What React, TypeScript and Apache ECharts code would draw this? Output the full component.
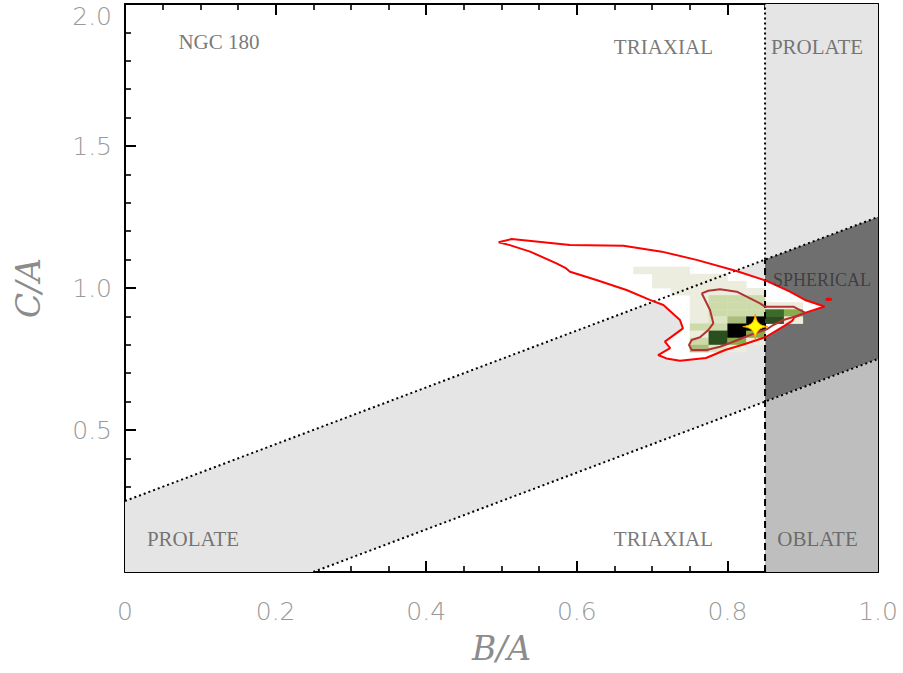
import { useEffect, useRef } from "react";
import * as echarts from "echarts";

// Axis tick labels
const X_LABELS = ["0", "0.2", "0.4", "0.6", "0.8", "1.0"];
const Y_LABELS = ["", "0.5", "1.0", "1.5", "2.0"];

// Shape-classification regions in (B/A, C/A)
const BAND_TRIAXIAL = [[0, 0], [0, 0.25], [0.85, 1.1], [0.85, 0.6], [0.25, 0]];
const REGION_PROLATE = [[0.85, 1.1], [0.85, 2.0], [1.0, 2.0], [1.0, 1.25]];
const REGION_SPHERICAL = [[0.85, 0.6], [0.85, 1.1], [1.0, 1.25], [1.0, 0.75]];
const REGION_OBLATE = [[0.85, 0], [0.85, 0.6], [1.0, 0.75], [1.0, 0]];
const REGION_POLYS = [BAND_TRIAXIAL, REGION_PROLATE, REGION_SPHERICAL, REGION_OBLATE];
const REGION_COLORS = ["#e5e5e5", "#e5e5e5", "#6f6f6f", "#bebebe"];

// Boundary lines
const UPPER_DIAGONAL = [[0, 0.25], [1.0, 1.25]];
const LOWER_DIAGONAL = [[0.25, 0], [1.0, 0.75]];
const VERTICAL_UPPER = [[0.85, 1.1], [0.85, 2.0]];
const VERTICAL_LOWER = [[0.85, 0], [0.85, 1.1]];

// Probability density cells: [B/A left edge, C/A bottom edge, level]
const CELL = 0.025;
const HEAT_CELLS: [number, number, number][] = [
  [0.675, 1.05, 1], [0.7, 1.05, 1], [0.725, 1.05, 1],
  [0.7, 1.025, 1], [0.725, 1.025, 1], [0.75, 1.025, 1], [0.775, 1.025, 1],
  [0.7, 1.0, 1], [0.725, 1.0, 1], [0.75, 1.0, 1], [0.775, 1.0, 1], [0.8, 1.0, 1],
  [0.725, 0.975, 1], [0.75, 0.975, 1], [0.775, 0.975, 1], [0.8, 0.975, 1], [0.825, 0.975, 1],
  [0.75, 0.95, 1], [0.775, 0.95, 3], [0.8, 0.95, 3], [0.825, 0.95, 3],
  [0.75, 0.925, 1], [0.775, 0.925, 3], [0.8, 0.925, 3], [0.825, 0.925, 3], [0.85, 0.925, 1], [0.875, 0.925, 1],
  [0.75, 0.9, 1], [0.775, 0.9, 3], [0.8, 0.9, 3], [0.825, 0.9, 3], [0.85, 0.9, 6], [0.875, 0.9, 5],
  [0.75, 0.875, 1], [0.775, 0.875, 2], [0.8, 0.875, 4], [0.825, 0.875, 8], [0.85, 0.875, 7], [0.875, 0.875, 1],
  [0.75, 0.85, 3], [0.775, 0.85, 3], [0.8, 0.85, 8], [0.825, 0.85, 8],
  [0.75, 0.825, 1], [0.775, 0.825, 7], [0.8, 0.825, 8], [0.825, 0.825, 5],
  [0.75, 0.8, 3], [0.775, 0.8, 7], [0.8, 0.8, 5], [0.825, 0.8, 1],
  [0.75, 0.775, 4], [0.775, 0.775, 2], [0.8, 0.775, 1],
];
const HEAT_COLORS = ["#ffffff", "#ecedde", "#dce5c4", "#cddbab", "#aabd7c", "#8aad4c", "#3b6a29", "#2b4e1e", "#000000"];

// Confidence contours
const OUTER_CONTOUR = [
  [0.496, 1.161], [0.5135, 1.1725], [0.591, 1.151], [0.662, 1.149], [0.713, 1.128],
  [0.759, 1.099], [0.812, 1.06], [0.852, 1.025], [0.883, 0.987], [0.903, 0.958],
  [0.929, 0.935], [0.906, 0.915], [0.889, 0.897], [0.886, 0.884], [0.875, 0.866],
  [0.851, 0.8275], [0.8234, 0.8028], [0.797, 0.7817], [0.7716, 0.7535], [0.737, 0.744],
  [0.719, 0.752], [0.708, 0.764], [0.724, 0.788], [0.717, 0.811], [0.741, 0.858],
  [0.737, 0.887], [0.715, 0.94], [0.697, 0.958], [0.666, 0.993], [0.626, 1.028],
  [0.591, 1.057], [0.586, 1.069], [0.573, 1.087], [0.538, 1.128], [0.511, 1.151],
  [0.496, 1.161],
];
const INNER_CONTOUR = [
  [0.7659, 0.9813], [0.7746, 0.9905], [0.7902, 0.9954], [0.8124, 0.987], [0.8256, 0.9694],
  [0.8433, 0.9461], [0.8499, 0.9342], [0.8875, 0.9342], [0.9031, 0.913], [0.892, 0.9014],
  [0.8742, 0.8873], [0.8609, 0.8697], [0.8522, 0.8546], [0.83, 0.8345], [0.8078, 0.8109],
  [0.7902, 0.7933], [0.7725, 0.7817], [0.7526, 0.7817], [0.749, 0.7993], [0.7526, 0.8169],
  [0.7636, 0.8264], [0.7746, 0.8521], [0.7813, 0.8757], [0.7769, 0.9225], [0.7659, 0.9813],
];
const OUTER_ISLAND = [[0.9302, 0.96], [0.9345, 0.9628], [0.9388, 0.96], [0.9345, 0.9572], [0.9302, 0.96]];

// Best-fit axis ratios
const BEST_FIT = [0.837, 0.864];

// Region annotations: [B/A, C/A, text]
const ANNOTATIONS: [number, number, string][] = [
  [0.1248, 1.866, "NGC 180"],
  [0.715, 1.847, "TRIAXIAL"],
  [0.919, 1.847, "PROLATE"],
  [0.0903, 0.116, "PROLATE"],
  [0.715, 0.116, "TRIAXIAL"],
  [0.9197, 0.116, "OBLATE"],
];
const SPHERICAL_LABEL: [number, number, string] = [0.9256, 1.028, "SPHERICAL"];

const STAR_PATH =
  "path://M10,0 C11,7 13,9 20,10 C13,11 11,13 10,20 C9,13 7,11 0,10 C7,9 9,7 10,0 Z";

const TICK_FONT = "'DejaVu Sans', sans-serif";
const TICK_COLOR = "#9a9a9a";
const LABEL_FONT = "'Liberation Serif', serif";

function axisBase(min: number, max: number, interval: number, minorSplit: number) {
  return {
    type: "value",
    min,
    max,
    interval,
    splitLine: { show: false },
    axisLine: { show: true, onZero: false, lineStyle: { color: "#000", width: 2 } },
    axisTick: { show: true, inside: true, length: 11, lineStyle: { color: "#000", width: 2 } },
    minorTick: { show: true, splitNumber: minorSplit, length: 6, lineStyle: { color: "#000", width: 1.6 } },
    minorSplitLine: { show: false },
  };
}

export default function App() {
  const ref = useRef<HTMLDivElement>(null);

  useEffect(() => {
    document.body.style.margin = "0";
    if (!ref.current) return;
    const chart = echarts.init(ref.current, undefined, { renderer: "svg" });

    const polygonItem = (points: number[][], api: any, fill: string) => ({
      type: "polygon",
      shape: { points: points.map((p) => api.coord(p)) },
      style: { fill, stroke: null },
    });

    const guide = (data: number[][], type: any, width: number) => ({
      type: "line",
      data,
      symbol: "none",
      silent: true,
      z: 5,
      lineStyle: { color: "#000", width, type },
    });

    const contour = (data: number[][], color: string) => ({
      type: "line",
      data,
      symbol: "none",
      silent: true,
      z: 6,
      lineStyle: { color, width: 2 },
    });

    const nameStyle = {
      fontSize: 33,
      fontStyle: "italic",
      fontWeight: 200,
      color: "#8c8c8c",
      fontFamily: "'DejaVu Serif', serif",
    };

    const option: any = {
      animation: false,
      backgroundColor: "#ffffff",
      grid: { left: 125, right: 25, top: 4, bottom: 101 },
      xAxis: [
        {
          ...axisBase(0, 1, 0.2, 4),
          position: "bottom",
          axisLabel: {
            margin: 27,
            fontSize: 25,
            fontWeight: 200,
            color: TICK_COLOR,
            fontFamily: TICK_FONT,
            formatter: (_v: number, i: number) => X_LABELS[i] ?? "",
          },
          name: "B/A",
          nameLocation: "middle",
          nameGap: 60,
          nameTextStyle: nameStyle,
        },
        {
          ...axisBase(0, 1, 0.2, 4),
          position: "top",
          axisLabel: { show: false },
        },
      ],
      yAxis: [
        {
          ...axisBase(0, 2, 0.5, 5),
          position: "left",
          axisLabel: {
            margin: 13,
            fontSize: 25,
            fontWeight: 200,
            color: TICK_COLOR,
            fontFamily: TICK_FONT,
            formatter: (_v: number, i: number) =>
              i === Y_LABELS.length - 1 ? `{t|${Y_LABELS[i]}}` : Y_LABELS[i] ?? "",
            rich: {
              t: {
                fontSize: 25,
                fontWeight: 200,
                color: TICK_COLOR,
                fontFamily: TICK_FONT,
                padding: [24, 0, 0, 0],
              },
            },
          },
          name: "C/A",
          nameLocation: "middle",
          nameGap: 80,
          nameTextStyle: nameStyle,
        },
        {
          ...axisBase(0, 2, 0.5, 5),
          position: "right",
          axisLabel: { show: false },
        },
      ],
      series: [
        {
          type: "custom",
          silent: true,
          z: 1,
          data: REGION_POLYS.map((_, i) => [i, 0]),
          renderItem: (params: any, api: any) =>
            polygonItem(REGION_POLYS[params.dataIndex], api, REGION_COLORS[params.dataIndex]),
        },
        {
          type: "custom",
          silent: true,
          z: 2,
          data: [[0, 0]],
          renderItem: (_p: any, api: any) => polygonItem(OUTER_CONTOUR, api, "#ffffff"),
        },
        {
          type: "custom",
          silent: true,
          z: 3,
          data: HEAT_CELLS,
          encode: { x: 0, y: 1 },
          renderItem: (_p: any, api: any) => {
            const x0 = api.value(0);
            const y0 = api.value(1);
            const lvl = api.value(2);
            const a = api.coord([x0, y0 + CELL]);
            const b = api.coord([x0 + CELL, y0]);
            return {
              type: "rect",
              shape: { x: a[0], y: a[1], width: b[0] - a[0] + 0.4, height: b[1] - a[1] + 0.4 },
              style: { fill: HEAT_COLORS[lvl], stroke: null },
            };
          },
        },
        guide(UPPER_DIAGONAL, [2, 3], 2),
        guide(LOWER_DIAGONAL, [2, 3], 2),
        guide(VERTICAL_UPPER, [2, 3], 2),
        guide(VERTICAL_LOWER, [7, 4], 2),
        contour(OUTER_CONTOUR, "#ff0000"),
        contour(OUTER_ISLAND, "#ff0000"),
        contour(INNER_CONTOUR, "#b33232"),
        {
          type: "scatter",
          silent: true,
          z: 8,
          data: [BEST_FIT],
          symbol: STAR_PATH,
          symbolSize: 25,
          itemStyle: { color: "#ffff00", borderColor: "#ff9900", borderWidth: 1, opacity: 1 },
        },
        {
          type: "scatter",
          silent: true,
          z: 9,
          symbolSize: 1,
          itemStyle: { color: "rgba(0,0,0,0)" },
          data: ANNOTATIONS.map((a) => ({ value: [a[0], a[1]], name: a[2] })),
          label: {
            show: true,
            position: "inside",
            formatter: "{b}",
            fontSize: 21,
            color: "#555",
            fontFamily: LABEL_FONT,
          },
        },
        {
          type: "scatter",
          silent: true,
          z: 9,
          symbolSize: 1,
          itemStyle: { color: "rgba(0,0,0,0)" },
          data: [{ value: [SPHERICAL_LABEL[0], SPHERICAL_LABEL[1]], name: SPHERICAL_LABEL[2] }],
          label: {
            show: true,
            position: "inside",
            formatter: "{b}",
            fontSize: 18,
            color: "#333",
            fontFamily: LABEL_FONT,
          },
        },
      ],
    };

    chart.setOption(option);
    return () => chart.dispose();
  }, []);

  return <div ref={ref} style={{ width: 903, height: 673 }} />;
}
